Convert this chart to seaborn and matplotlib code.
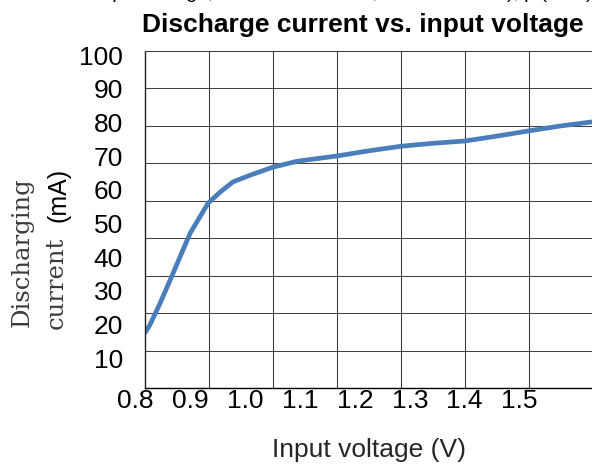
import matplotlib
matplotlib.use("Agg")
import matplotlib.pyplot as plt
import matplotlib.transforms as mtransforms
import numpy as np
import pandas as pd
import seaborn as sns

# ---- data ----
voltage = [0.800, 0.808, 0.824, 0.842, 0.871, 0.899, 0.918, 0.938, 0.965,
           1.000, 1.038, 1.100, 1.147, 1.200, 1.251, 1.300, 1.350, 1.400,
           1.449, 1.499]
current = [14.6, 16.8, 22.6, 29.7, 41.3, 49.3, 52.3, 55.0, 56.8,
           58.9, 60.5, 61.9, 63.2, 64.5, 65.3, 65.9, 67.2, 68.6,
           69.9, 71.0]
x_tick_labels = ["0.8", "0.9", "1.0", "1.1", "1.2", "1.3", "1.4", "1.5"]
y_tick_labels = ["10", "20", "30", "40", "50", "60", "70", "80", "90", "100"]

title = "Discharge current vs. input voltage"
top_line = "Input voltage, rated load current, ambient 25 \u00b0C), p (Vout),"
x_label = "Input voltage (V)"

df = pd.DataFrame({"voltage": voltage, "current": current})

sns.set_style("white")
plt.rcParams["font.family"] = ["Liberation Sans", "DejaVu Sans"]

W, H = 592, 466
fig = plt.figure(figsize=(W / 100, H / 100), dpi=100)
ax_left, ax_right, ax_top, ax_bottom = 144.7, 592.7, 50.7, 388.0
ax = fig.add_axes([ax_left / W, 1 - ax_bottom / H,
                   (ax_right - ax_left) / W, (ax_bottom - ax_top) / H])

sns.lineplot(data=df, x="voltage", y="current", ax=ax, sort=False,
             color="#4a7ebb", linewidth=3.4, solid_capstyle="butt",
             estimator=None)

ax.set_xlim(0.8, 1.5)
ax.set_ylim(0, 90)

# grid on minor ticks
ax.set_xticks(np.arange(0.8, 1.5001, 0.1), minor=True)
ax.set_yticks(np.arange(0, 90.01, 10), minor=True)
ax.grid(False, which="major")
ax.grid(True, which="minor", axis="x", color="#383838", linewidth=0.75)
ax.grid(True, which="minor", axis="y", color="#404040", linewidth=0.75)
ax.set_axisbelow(True)

# tick labels (offset from the grid as in the reference)
xpos = [0.8 + k * (54.86 / 640) for k in range(len(x_tick_labels))]
ypos = [8.0 + k * (33.67 / 3.75) for k in range(len(y_tick_labels))]
ax.set_xticks(xpos)
ax.set_xticklabels(x_tick_labels)
ax.set_yticks(ypos)
ax.set_yticklabels(y_tick_labels)

ax.tick_params(axis="both", which="major", length=0, labelsize=19,
               labelcolor="black")
ax.tick_params(axis="x", which="major", pad=1)
ax.tick_params(axis="y", which="major", pad=15.6)
ax.tick_params(axis="x", which="minor", length=0)
ax.tick_params(axis="y", which="minor", direction="in", length=5,
               width=1, color="#202020")

offset = mtransforms.ScaledTranslation(-9.2 / 100, 0, fig.dpi_scale_trans)
for lab in ax.get_xticklabels():
    lab.set_transform(lab.get_transform() + offset)

ax.spines["right"].set_visible(False)
ax.spines["top"].set_color("#404040")
ax.spines["top"].set_linewidth(0.75)
ax.spines["left"].set_color("#202020")
ax.spines["left"].set_linewidth(1.0)
ax.spines["bottom"].set_color("black")
ax.spines["bottom"].set_linewidth(1.0)

ax.set_ylabel("")
ax.set_xlabel(x_label, fontsize=19, va="baseline")
ax.xaxis.set_label_coords((369 - ax_left) / (ax_right - ax_left),
                          (ax_bottom - 457) / (ax_bottom - ax_top))

# y label made of two fonts, rotated
serif = ["DejaVu Serif", "Liberation Serif"]
fig.text(29 / W, 1 - 252 / H, "Discharging", rotation=90,
         rotation_mode="anchor", ha="center", va="baseline",
         family=serif, fontsize=17.5, color="#3a3a3a")
fig.text(63 / W, 1 - 283 / H, "current", rotation=90,
         rotation_mode="anchor", ha="center", va="baseline",
         family=serif, fontsize=17.5, color="#3a3a3a")
fig.text(65 / W, 1 - 195 / H, "(mA)", rotation=90,
         rotation_mode="anchor", ha="center", va="baseline",
         fontsize=18, color="black")

# titles
fig.text(362.5 / W, 1 - 32 / H, title, ha="center", va="baseline",
         fontsize=19, fontweight="bold", color="black")
fig.text(96 / W, 1 + 1.5 / H, top_line, ha="left", va="baseline",
         fontsize=14, color="black")

fig.savefig("out.png", dpi=100)
